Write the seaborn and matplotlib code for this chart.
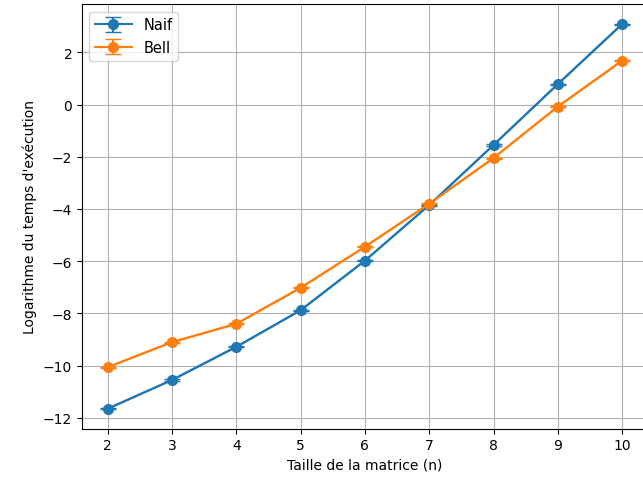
import numpy as np
import pandas as pd
import matplotlib
matplotlib.use("Agg")
import matplotlib.pyplot as plt
import seaborn as sns

# ========== données ==========
tailles = [2, 3, 4, 5, 6, 7, 8, 9, 10]
log_naif = [-11.65, -10.55, -9.28, -7.88, -5.98, -3.85, -1.55, 0.78, 3.08]
log_bell = [-10.06, -9.10, -8.40, -7.02, -5.45, -3.80, -2.05, -0.08, 1.68]
err_naif = [0.02, 0.02, 0.02, 0.02, 0.02, 0.02, 0.02, 0.02, 0.02]
err_bell = [0.02, 0.02, 0.02, 0.02, 0.02, 0.02, 0.02, 0.02, 0.02]

df = pd.DataFrame({'n': tailles, 'Naif': log_naif, 'Bell': log_bell})

couleurs = sns.color_palette('tab10')

fig = plt.figure(figsize=(6.43, 4.81), dpi=100)
ax = fig.add_axes([0.1275, 0.107, 0.880, 0.882])

for i, (nom, err) in enumerate([('Naif', err_naif), ('Bell', err_bell)]):
    sns.lineplot(data=df, x='n', y=nom, ax=ax, color=couleurs[i], legend=False)
    ax.errorbar(df['n'], df[nom], yerr=err, fmt='o-', color=couleurs[i],
                markersize=7, capsize=6, label=nom)

ax.set_xlabel('Taille de la matrice (n)')
ax.set_ylabel("Logarithme du temps d'exécution")
ax.grid(True)
ax.legend(loc='upper left', fontsize=10.5, handlelength=2.5)

fig.savefig('out.png', dpi=100)
